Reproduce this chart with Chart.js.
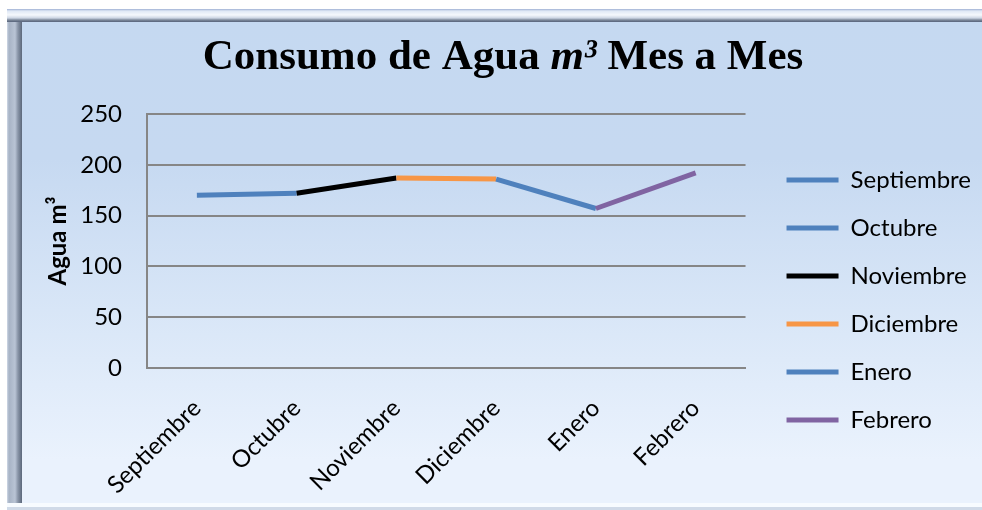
<!DOCTYPE html>
<html>
<head>
<meta charset="utf-8">
<script src="https://cdn.jsdelivr.net/npm/chart.js@4.4.0/dist/chart.umd.min.js"></script>
<style>
  html, body { margin: 0; padding: 0; background: #ffffff; width: 982px; height: 510px; overflow: hidden; }
  #panel {
    position: absolute; left: 7px; top: 9px; width: 975px; height: 501px;
    background:
      linear-gradient(to bottom, #9fb0d4 0, #dfe8f5 2px, #f5f8fc 6px, #cdd6e4 9px, #7d899b 11px, #56627a 13px),
      linear-gradient(to right, #d0d9e7 0, #a7b3c5 2px, #b9c4d5 8px, #8894a7 11px, #5c687b 15px),
      linear-gradient(to bottom, #f7fbff 0, #f7fbff 4px, #d0dae8 4px, #d0dae8 7px),
      linear-gradient(to bottom, #c5d9f1 0%, #c6d9f1 30%, #deeaf9 70%, #eaf2fd 90%, #eaf2fd 100%);
    background-size: 100% 13px, 15px calc(100% - 7px), 100% 7px, 100% 100%;
    background-position: 0 0, 0 0, 0 100%, 0 0;
    background-repeat: no-repeat;
  }
  #c { position: absolute; left: 0; top: 0; }
</style>
</head>
<body>
<div id="panel"></div>
<canvas id="c" width="982" height="510"></canvas>
<script>
// Monthly water use (m³)
const months = ['Septiembre', 'Octubre', 'Noviembre', 'Diciembre', 'Enero', 'Febrero'];
const consumo = [170, 172, 187, 186, 157, 192];
const monthColors = ['#4F81BD', '#4F81BD', '#000000', '#F79646', '#4F81BD', '#8064A2'];
const yTicks = [0, 50, 100, 150, 200, 250];

const titleParts = [
  { text: 'Consumo de Agua ', italic: false },
  { text: 'm³', italic: true },
  { text: ' Mes a Mes', italic: false }
];

// Title with an italic unit, drawn as three text runs
const mixedTitle = {
  id: 'mixedTitle',
  afterDraw(chart) {
    const ctx = chart.ctx;
    const size = 43;
    const fam = '"Liberation Serif", "Times New Roman", serif';
    ctx.save();
    ctx.fillStyle = '#000';
    ctx.textBaseline = 'alphabetic';
    ctx.textAlign = 'left';
    let total = 0;
    const widths = titleParts.map(p => {
      ctx.font = (p.italic ? 'italic ' : '') + 'bold ' + size + 'px ' + fam;
      const w = ctx.measureText(p.text).width;
      total += w;
      return w;
    });
    let x = 503 - total / 2;
    titleParts.forEach((p, i) => {
      ctx.font = (p.italic ? 'italic ' : '') + 'bold ' + size + 'px ' + fam;
      ctx.fillText(p.text, x, 69);
      x += widths[i];
    });
    ctx.restore();
  }
};

// Leave a gap between the plot area and the legend column
const legendGap = {
  id: 'legendGap',
  afterLayout(chart) {
    const lg = chart.legend;
    if (!lg) return;
    lg.left += 17;
    lg.right += 17;
    lg.top -= 7;
    lg.bottom -= 7;
  }
};

const font = 'Lato, "Open Sans", sans-serif';

new Chart(document.getElementById('c'), {
  type: 'line',
  data: {
    labels: months,
    datasets: [{
      label: 'Consumo',
      data: consumo,
      borderWidth: 5,
      borderColor: monthColors[0],
      borderCapStyle: 'butt',
      pointRadius: 0,
      pointHoverRadius: 0,
      tension: 0,
      fill: false,
      segment: {
        borderColor: c => monthColors[c.p1DataIndex]
      }
    }]
  },
  options: {
    responsive: false,
    animation: false,
    devicePixelRatio: 1,
    layout: { padding: { top: 114, bottom: 10, left: 22, right: 18 } },
    plugins: {
      title: { display: false },
      tooltip: { enabled: false },
      legend: {
        position: 'right',
        labels: {
          font: { family: font, size: 24 },
          color: '#000',
          boxWidth: 52,
          boxHeight: 5,
          padding: 24,
          generateLabels: () => months.map((m, i) => ({
            text: m,
            fillStyle: monthColors[i],
            strokeStyle: monthColors[i],
            lineWidth: 0,
            hidden: false,
            datasetIndex: 0
          }))
        }
      }
    },
    scales: {
      x: {
        offset: true,
        grid: { display: false, drawTicks: false },
        border: { display: true, color: '#868686', width: 2 },
        ticks: {
          font: { family: font, size: 24 },
          color: '#000',
          maxRotation: 45,
          minRotation: 45,
          autoSkip: false,
          padding: 26
        },
        afterFit: s => { s.height = 132; }
      },
      y: {
        min: 0,
        max: 250,
        afterBuildTicks: s => { s.ticks = yTicks.map(v => ({ value: v })); },
        grid: { color: '#868686', lineWidth: 2, drawTicks: false },
        border: { display: true, color: '#868686', width: 2 },
        ticks: {
          font: { family: font, size: 24 },
          color: '#000',
          padding: 25
        },
        title: {
          display: true,
          text: 'Agua m³',
          font: { family: font, size: 24, weight: 'bold' },
          color: '#000',
          padding: { top: 22, bottom: 0 }
        },
        afterFit: s => { s.width = 125; }
      }
    }
  },
  plugins: [mixedTitle, legendGap]
});
</script>
</body>
</html>
